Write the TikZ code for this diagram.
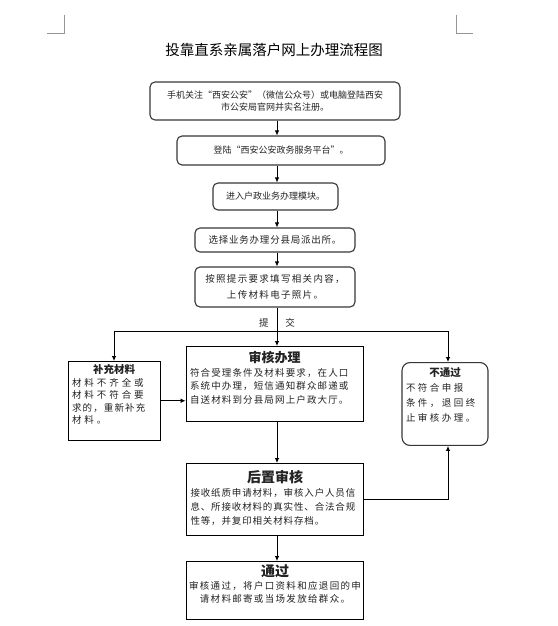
\documentclass[tikz,border=0pt]{standalone}
\usepackage{fontspec}
\setmainfont{Noto Sans CJK SC}
\usetikzlibrary{positioning,calc,arrows.meta}
\definecolor{edgeDark}{RGB}{55,55,55}
\definecolor{inkGray}{RGB}{35,35,35}
\definecolor{markGray}{RGB}{150,150,150}

\newcommand{\spaced}[1]{\addfontfeature{LetterSpace=#1}}
\newcommand{\boxtitle}[2]{\makebox[\hsize]{\fontsize{#1}{#1}\selectfont\bfseries\spaced{0}#2}}

\begin{document}
\begin{tikzpicture}[
  x=1pt,y=-1pt,
  text=inkGray,
  stepbox/.style={draw=edgeDark,fill=white,rounded corners=5pt,line width=1.1pt,
                  align=center,inner sep=2pt,font=\fontsize{9}{12}\selectfont},
  checkbox/.style={draw=black,fill=white,line width=0.9pt,anchor=north,
                   inner xsep=4pt,inner ysep=3pt,align=left},
  endbox/.style={checkbox,rounded corners=8pt,draw=edgeDark,line width=1.1pt},
  flow/.style={-{Latex[length=5pt,width=4.5pt]},line width=0.8pt,draw=black}
]
\useasboundingbox (0,0) rectangle (557,626);

% ---- columns ----
\def\xC{277}   % main column
\coordinate (spine) at (\xC,0);
\coordinate (split) at (\xC,331);

% ---- page corner marks ----
\draw[markGray,line width=0.6pt] (47,33) -- (64,33) -- (64,15);
\draw[markGray,line width=0.6pt] (473,33) -- (456,33) -- (456,15);

% ---- title ----
\node[font=\fontsize{14.5}{16}\selectfont,text=black] (title) at (274,50)
  {投靠直系亲属落户网上办理流程图};

% ========================================================
%  online steps
% ========================================================
\node[stepbox,minimum width=250,minimum height=38] (wechat) at (275,101)
  {手机关注“西安公安”（微信公众号）或电脑登陆西安\\市公安局官网并实名注册。};
\node[stepbox,minimum width=208,minimum height=29] (portal) at (281,150.5)
  {登陆“西安公安政务服务平台”。};
\node[stepbox,minimum width=125,minimum height=27] (module) at (275.5,196.5)
  {进入户政业务办理模块。};
\node[stepbox,minimum width=160,minimum height=24,
      font=\fontsize{9.5}{12}\selectfont\spaced{8}] (station) at (275,240)
  {选择业务办理分县局派出所。};
\node[stepbox,minimum width=160,minimum height=40,
      font=\fontsize{9.5}{16}\selectfont\spaced{14}] (fill) at (275,287)
  {按照提示要求填写相关内容，\\上传材料电子照片。};

\draw[flow] (wechat.south -| spine) -- (portal.north -| spine);
\draw[flow] (portal.south -| spine) -- (module.north -| spine);
\draw[flow] (module.south -| spine) -- (station.north -| spine);
\draw[flow] (station.south -| spine) -- (fill.north -| spine);

% ========================================================
%  review
% ========================================================
\node[checkbox,inner ysep=5pt,text width=169,font=\fontsize{9.5}{13.5}\selectfont\spaced{12}]
  (review) at (274.5,346)
  {\boxtitle{13}{审核办理}\\符合受理条件及材料要求，在人口\\系统中办理，短信通知群众邮递或\\自送材料到分县局网上户政大厅。\\[0pt]\mbox{}};

\node[checkbox,text width=84,font=\fontsize{9.5}{12.5}\selectfont\spaced{31}]
  (supp) at (114,361)
  {\boxtitle{10.5}{补充材料}\\材料不齐全或\\材料不符合要\\{\spaced{12}求的，重新补充}\\材料。\\[1pt]\mbox{}};

\node[endbox,inner ysep=5pt,text width=78,font=\fontsize{9.5}{15}\selectfont\spaced{26}]
  (reject) at (445,362)
  {\boxtitle{10.5}{不通过}\\不符合申报\\条件，退回终\\止审核办理。\\[4pt]\mbox{}};

\node[checkbox,inner ysep=7pt,text width=169,font=\fontsize{9.5}{14}\selectfont\spaced{9}]
  (post) at (275,463)
  {\boxtitle{14}{后置审核}\\接收纸质申请材料，审核入户人员信\\息、所接收材料的真实性、合法合规\\性等，并复印相关材料存档。\\[-10pt]\mbox{}};

\node[checkbox,inner xsep=1pt,text width=175,align=center,
      font=\fontsize{9.5}{13}\selectfont\spaced{14}]
  (pass) at (275,561)
  {\boxtitle{14}{通过}\\审核通过，将户口资料和应退回的申\\请材料邮寄或当场发放给群众。\\[1pt]\mbox{}};

% ---- connectors ----
\draw[flow] (fill.south -| spine) --
  node[pos=0.41,font=\fontsize{9.5}{10}\selectfont]{提\hspace{17pt}交}
  (review.north -| spine);
\draw[flow] (split) -| (supp.north);
\draw[flow] (split) -| ([xshift=3pt]reject.north);
\draw[flow] (supp.east) -- (supp.east -| review.west);
\draw[flow] (review.south -| spine) -- (post.north -| spine);
\draw[flow] (post.east) -| ([xshift=3pt]reject.south);
\draw[flow] (post.south -| spine) -- (pass.north -| spine);

\end{tikzpicture}
\end{document}
